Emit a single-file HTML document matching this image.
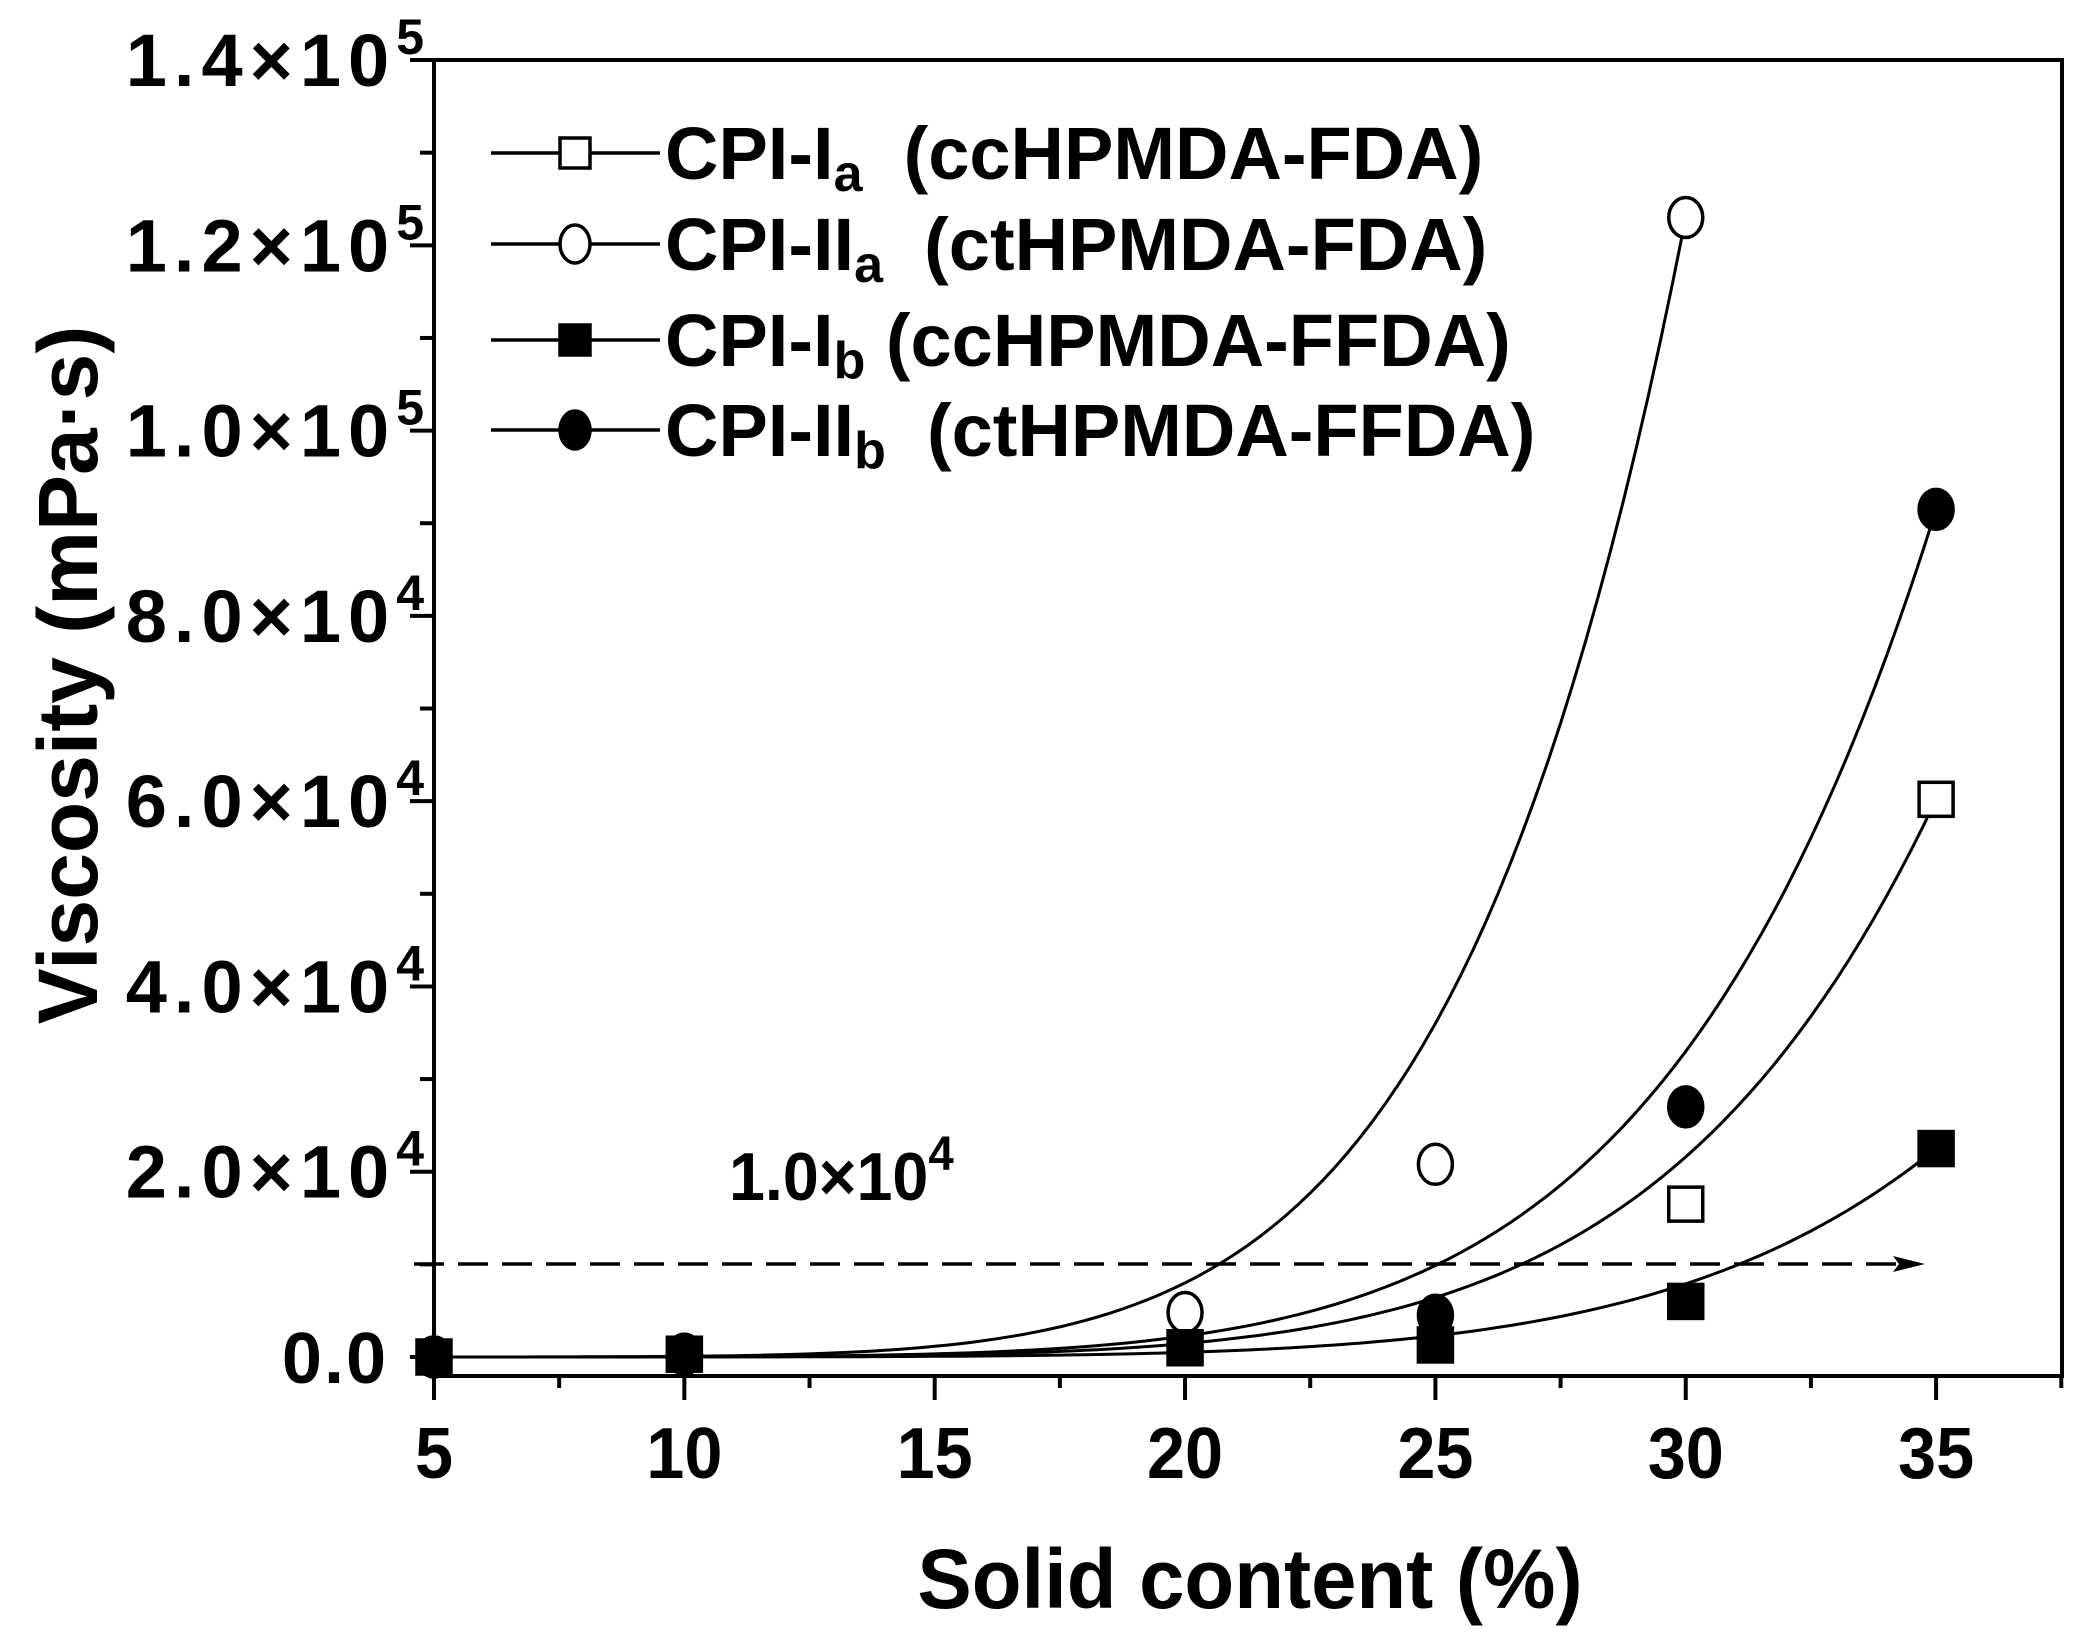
<!DOCTYPE html>
<html><head><meta charset="utf-8"><style>
html,body{margin:0;padding:0;background:#fff;}
svg{display:block;}
text{font-family:"Liberation Sans",Arial,sans-serif;font-weight:bold;fill:#000;}
</style></head><body>
<svg id="s" width="2086" height="1632" viewBox="0 0 2086 1632" xmlns="http://www.w3.org/2000/svg">
<g id="g"></g>
</svg>
<script>
var NS="http://www.w3.org/2000/svg",g=document.getElementById('g');
function el(t,a,txt){var e=document.createElementNS(NS,t);for(var k in a)e.setAttribute(k,a[k]);if(txt!==undefined)e.textContent=txt;g.appendChild(e);return e;}
function px(x){return 434+(x-5)*50.07;}
function py(v){return 1357-v*0.009264;}
el('rect',{x:434,y:60,width:1628,height:1316,fill:'none',stroke:'#000','stroke-width':4});
for(var i=0;i<=14;i++){var y=py(i*1e4);var maj=i%2==0;el('line',{x1:maj?410:420,y1:y,x2:434,y2:y,stroke:'#000','stroke-width':4});}
for(var x=5;x<=37.5;x+=2.5){var maj=(x%5==0);el('line',{x1:px(x),y1:1376,x2:px(x),y2:maj?1400:1388,stroke:'#000','stroke-width':4});}
for(var i=0;i<=7;i++){var y=py(i*2e4);
 if(i==0){el('text',{x:388,y:y+26,'text-anchor':'end','font-size':72,'letter-spacing':2},'0.0');continue;}
 var e=(i<5?4:5);var mant=(i<5?(i*2).toFixed(1):(i*2/10).toFixed(1));
 var t=el('text',{x:424,y:y+26,'text-anchor':'end','font-size':74,'letter-spacing':7});
 t.innerHTML=mant+'×10<tspan dy="-32" font-size="50" letter-spacing="0">'+e+'</tspan>';
}
[5,10,15,20,25,30,35].forEach(function(x){el('text',{x:px(x),y:1478,'text-anchor':'middle','font-size':72,transform:'translate('+px(x)+' 0) scale(0.95 1) translate('+(-px(x))+' 0)'},x);});
el('text',{x:1250,y:1608,'text-anchor':'middle','font-size':84,transform:'translate(1250 0) scale(0.97 1) translate(-1250 0)'},'Solid content (%)');
el('text',{x:0,y:0,'text-anchor':'middle','font-size':84,transform:'translate(97 675) rotate(-90) scale(1.0 1)'},'Viscosity (mPa·s)');
el('line',{x1:414,y1:1264,x2:1905,y2:1264,stroke:'#000','stroke-width':3.5,'stroke-dasharray':'30 14'});
el('path',{d:'M1925 1264 L1893 1256 L1899 1264 L1893 1272 Z',fill:'#000'});
var t=el('text',{x:729,y:1200,'font-size':68,transform:'translate(729 0) scale(0.95 1) translate(-729 0)'});
t.innerHTML='1.0×10<tspan dy="-30" font-size="48">4</tspan>';
function curve(x1,v1,x2,v2,xe){var n=Math.log(v1/v2)/Math.log(x1/x2);var d='';for(var x=5;x<=xe+0.001;x+=0.25){var v=v1*Math.pow(x/x1,n);d+=(d?'L':'M')+px(x).toFixed(1)+' '+py(v).toFixed(1);}el('path',{d:d,fill:'none',stroke:'#000','stroke-width':3});}
curve(30,1.23e5,25,3.6e4,30);
curve(35,9.15e4,30,3.3e4,35);
curve(35,6.02e4,30,2.16e4,35);
curve(35,2.25e4,30,7.9e3,35);
function sq(x,v,f){el('rect',{x:px(x)-17,y:py(v)-17,width:34,height:34,fill:f?'#000':'#fff',stroke:'#000','stroke-width':3.5});}
function ci(x,v,f){el('ellipse',{cx:px(x),cy:py(v),rx:17,ry:20,fill:f?'#000':'#fff',stroke:'#000','stroke-width':3.5});}
[[5,0],[10,300],[20,4800],[25,20800],[30,123000]].forEach(function(p){ci(p[0],p[1],false);});
[[5,0],[10,300],[20,1000],[25,1300],[30,6000],[35,22500]].forEach(function(p){sq(p[0],p[1],true);});
[[30,16500],[35,60200]].forEach(function(p){sq(p[0],p[1],false);});
[[5,0],[10,300],[25,4500],[30,27000],[35,91500]].forEach(function(p){ci(p[0],p[1],true);});
var rows=[[153,'sq',false,'CPI-I','a',' (ccHPMDA-FDA)'],[244,'ci',false,'CPI-II','a',' (ctHPMDA-FDA)'],[340,'sq',true,'CPI-I','b','(ccHPMDA-FFDA)'],[430,'ci',true,'CPI-II','b',' (ctHPMDA-FFDA)']];
rows.forEach(function(r){var y=r[0];el('line',{x1:491,y1:y,x2:660,y2:y,stroke:'#000','stroke-width':3.5});
 if(r[1]=='sq')el('rect',{x:560,y:y-15,width:30,height:30,fill:r[2]?'#000':'#fff',stroke:'#000','stroke-width':3.5});
 else el('ellipse',{cx:575,cy:y,rx:15,ry:19,fill:r[2]?'#000':'#fff',stroke:'#000','stroke-width':3.5});
 var t=el('text',{x:665,y:y+26,'font-size':74,transform:'translate(665 0) scale(1.0 1) translate(-665 0)'});
 t.innerHTML=r[3]+'<tspan dy="12" font-size="52">'+r[4]+'</tspan><tspan dy="-12" xml:space="preserve"> '+r[5]+'</tspan>';
});
</script>
</body></html>
